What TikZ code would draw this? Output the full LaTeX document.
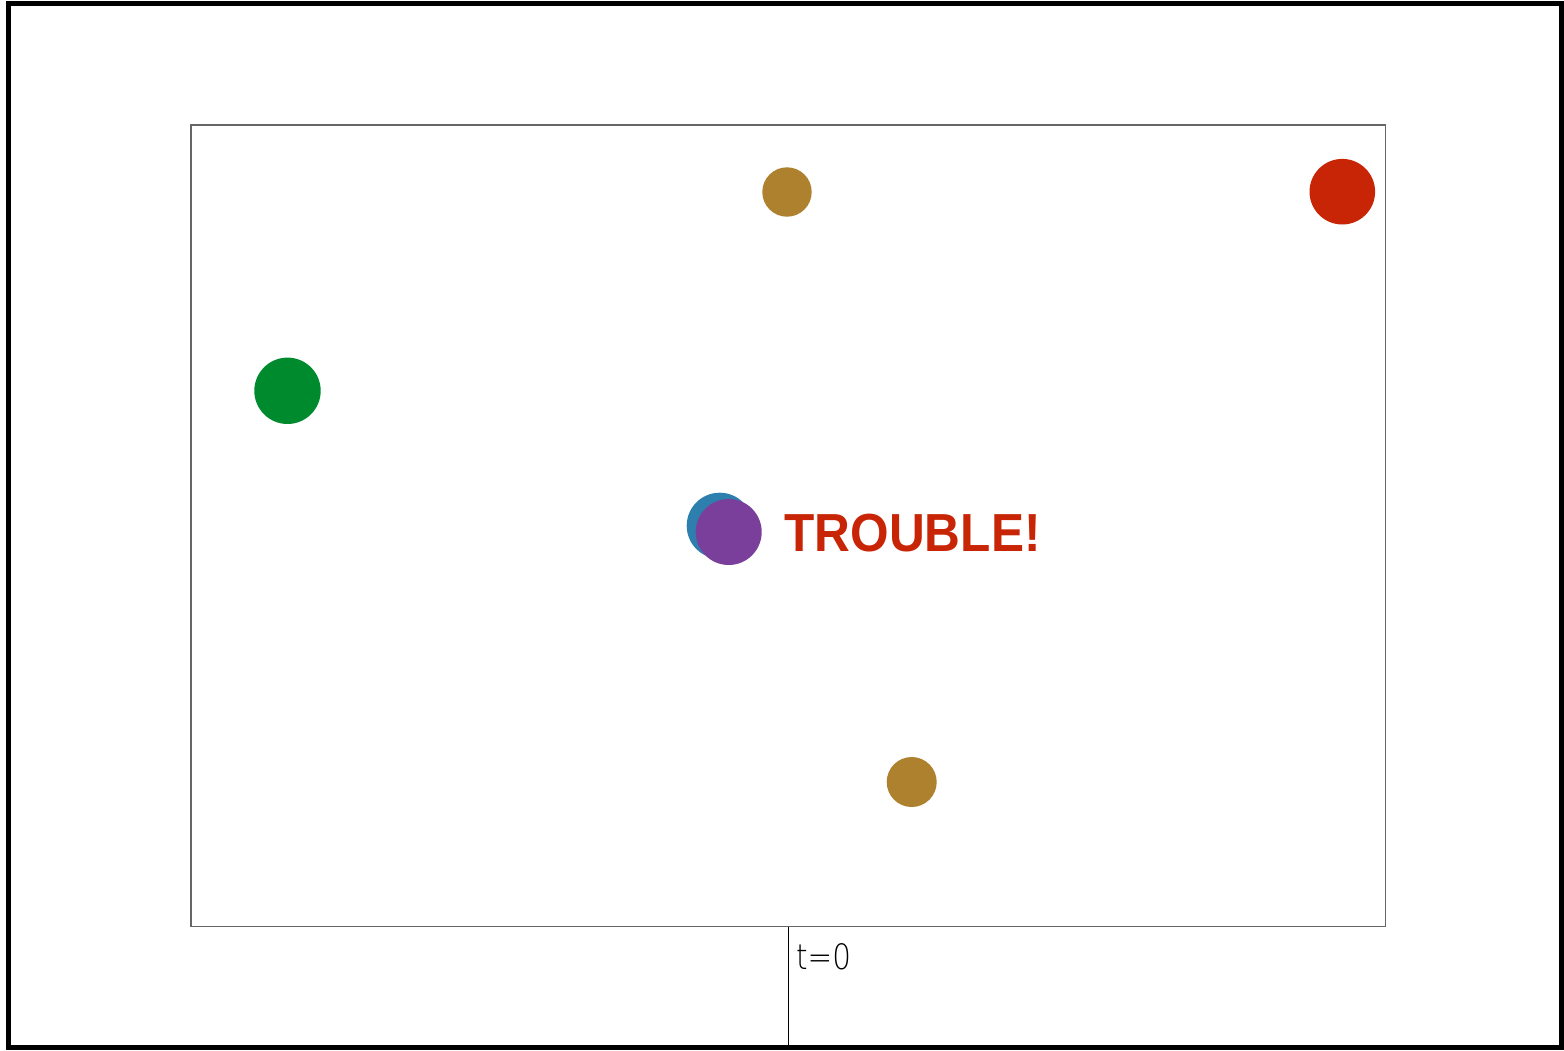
\documentclass[tikz,border=0pt]{standalone}
\usepackage{fontspec}
\usepackage{tikz}
\usepackage{xcolor}
\setmainfont{Liberation Sans}
\newfontfamily\thinfont{DejaVu Sans ExtraLight}
\definecolor{ballgold}{HTML}{AD812D}
\definecolor{ballred}{HTML}{C82506}
\definecolor{ballgreen}{HTML}{008A2E}
\definecolor{ballblue}{HTML}{2D7FAE}
\definecolor{ballpurple}{HTML}{7A3F9B}

\begin{document}
\begin{tikzpicture}[x=1pt,y=-1pt,
  ball/.style={circle,inner sep=0pt,draw=none}]
  \useasboundingbox (0,0) rectangle (1564,1050);
  % frame and box
  \draw[line width=5pt] (8.5,3.5) rectangle (1561.5,1047.5);
  \draw[line width=1.5pt,black!60] (191,125) rectangle (1385.5,926.5);
  % balls
  \foreach \nm/\x/\y/\r/\col in {g1/787/192/49.4/ballgold,g2/911.7/782/50/ballgold,
      red/1342.3/191.7/65.6/ballred,green/287.5/390.8/66.4/ballgreen,
      blue/719.7/525.7/66/ballblue,purple/728.7/532/66/ballpurple}{
    \node[ball,fill=\col,minimum size=\r pt] (\nm) at (\x,\y) {};
  }
  \node[anchor=base west,inner sep=0pt,text=ballred,xscale=0.925,transform shape,
    font=\fontsize{53.6}{60}\selectfont\bfseries] (trouble) at (784.3,551.7) {TROUBLE!};
  % time marker
  \coordinate (tick) at (788.3,926.5);
  \coordinate (tickend) at (788.3,1047.5);
  \draw[line width=1.2pt] (tick) -- (tickend);
  \node[anchor=base west,inner sep=0pt,xscale=0.84,transform shape,
    font=\fontsize{35}{40}\thinfont] (time) at (796,969) {t=0};
\end{tikzpicture}
\end{document}
